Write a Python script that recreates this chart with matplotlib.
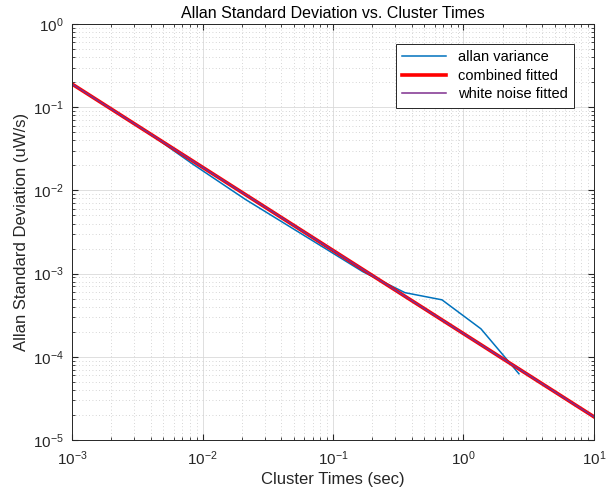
import numpy as np
import matplotlib.pyplot as plt

plt.rcParams['font.family'] = ['Liberation Sans', 'DejaVu Sans']

# allan deviation
tau = [0.001, 0.002, 0.0043, 0.0085, 0.0213, 0.0426, 0.0852, 0.17, 0.356, 0.684, 1.36, 2.66]
adev = [0.19, 0.095, 0.0435, 0.0205, 0.0078, 0.0040, 0.00205, 0.00105, 0.00059, 0.000484, 0.000217, 0.0000625]

# fitted lines (slope -1)
fit_tau = [0.001, 10.0]
fit_combined = [0.19, 0.000019]
fit_white = [0.19, 0.000019]

fig = plt.figure(figsize=(6.14, 4.93), dpi=100)
ax = fig.add_axes([0.1173, 0.1075, 0.8501, 0.8438])

ax.loglog(tau, adev, color=(0, 0.447, 0.741), lw=1.1, label='allan variance')
ax.loglog(fit_tau, fit_combined, color=(1, 0, 0), lw=2.6, label='combined fitted')
ax.loglog(fit_tau, fit_white, color=(0.494, 0.184, 0.556), lw=1.1, label='white noise fitted')

ax.set_xlim(1e-3, 10)
ax.set_ylim(1e-5, 1)

ax.grid(True, which='major', color='#d9d9d9', lw=0.6, ls='-')
ax.grid(True, which='minor', color='#c8c8c8', lw=0.6, ls=(0, (1, 3)))
ax.set_axisbelow(True)
ax.tick_params(which='both', direction='in', top=True, right=True, labelsize=11, colors='#262626')
ax.tick_params(which='major', length=4)
ax.tick_params(which='minor', length=2.5)
ax.tick_params(axis='x', which='major', pad=7)
ax.tick_params(axis='y', which='major', pad=6)
for s in ax.spines.values():
    s.set_color('#262626')
    s.set_linewidth(0.7)

ax.set_title('Allan Standard Deviation vs. Cluster Times', fontsize=11.5, color='black', pad=4)
ax.set_xlabel('Cluster Times (sec)', fontsize=12, color='#262626', labelpad=3)
ax.set_ylabel('Allan Standard Deviation (uW/s)', fontsize=12, color='#262626', labelpad=3)

leg = ax.legend(loc='upper right', bbox_to_anchor=(0.976, 0.97), fontsize=10.5, fancybox=False,
                framealpha=1, edgecolor='#262626', borderpad=0.45, handlelength=3.0, labelspacing=0.3)
leg.get_frame().set_linewidth(0.7)

fig.savefig('out.png', dpi=100)
